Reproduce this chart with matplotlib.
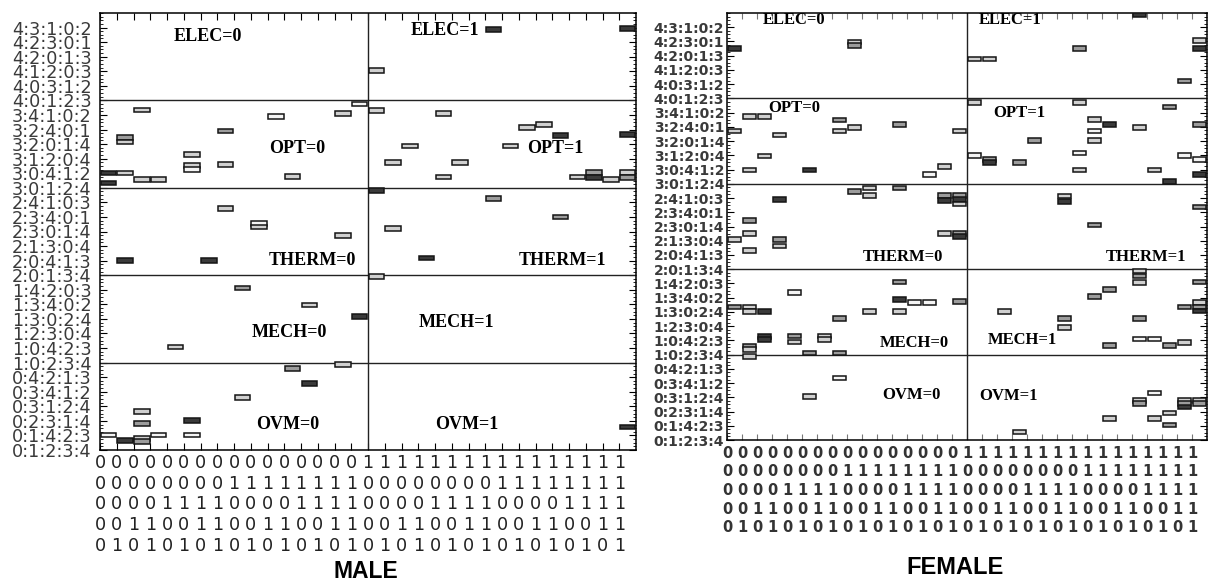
import matplotlib.pyplot as plt
import numpy as np
from matplotlib.ticker import MultipleLocator

# x categories: 5-bit codes (ELEC, OPT, THERM, MECH, OVM), one column each
codes = ['00000', '00001', '00010', '00011', '00100', '00101', '00110', '00111',
         '01000', '01001', '01010', '01011', '01100', '01101', '01110', '01111',
         '10000', '10001', '10010', '10011', '10100', '10101', '10110', '10111',
         '11000', '11001', '11010', '11011', '11100', '11101', '11110', '11111']

# y tick labels (rankings), every 4th of the 120 permutations, bottom to top
rank_pos = [0, 4, 8, 12, 16, 20, 24, 28, 32, 36, 40, 44, 48, 52, 56, 60,
            64, 68, 72, 76, 80, 84, 88, 92, 96, 100, 104, 108, 112, 116]
rank_labels = ['0:1:2:3:4', '0:1:4:2:3', '0:2:3:1:4', '0:3:1:2:4', '0:3:4:1:2', '0:4:2:1:3',
               '1:0:2:3:4', '1:0:4:2:3', '1:2:3:0:4', '1:3:0:2:4', '1:3:4:0:2', '1:4:2:0:3',
               '2:0:1:3:4', '2:0:4:1:3', '2:1:3:0:4', '2:3:0:1:4', '2:3:4:0:1', '2:4:1:0:3',
               '3:0:1:2:4', '3:0:4:1:2', '3:1:2:0:4', '3:2:0:1:4', '3:2:4:0:1', '3:4:1:0:2',
               '4:0:1:2:3', '4:0:3:1:2', '4:1:2:0:3', '4:2:0:1:3', '4:2:3:0:1', '4:3:1:0:2']
group_bounds = [24, 48, 72, 96]

# shade codes: w white, l light, m medium, d dark
shade_map = {'w': '#f4f4f4', 'l': '#d0d0d0', 'm': '#9c9c9c', 'd': '#3a3a3a'}

# MALE marks
male_col = [23, 16, 31,
            0, 1, 0, 2, 3, 1, 1, 2, 5, 5, 5, 7, 7, 10, 11, 14, 15,
            16, 20, 25, 26, 27, 18, 24, 17, 21, 20, 28, 29, 29, 30, 31, 31, 31,
            7, 9, 9, 14, 1, 6, 16, 23, 27, 17, 19,
            16, 8, 12, 15, 4,
            14, 11, 12, 8, 2, 2, 5, 0, 1, 2, 2, 3, 5, 31]
male_val = [115.5, 104.3, 115.8,
            76.1, 76.1, 73.3, 74.3, 74.3, 85.9, 84.6, 93.4, 81.1, 78.2, 77.0, 87.6, 78.3, 91.5, 75.2, 92.5, 95.0,
            93.2, 92.4, 88.5, 89.3, 86.4, 83.5, 83.5, 78.9, 78.9, 75.0, 75.0, 76.2, 74.9, 74.2, 86.6, 76.2, 74.9,
            66.4, 62.1, 61.2, 59.0, 52.0, 52.0, 71.3, 69.0, 64.0, 60.8, 52.7,
            47.6, 44.5, 39.8, 36.6, 28.3,
            23.4, 22.4, 18.2, 14.5, 10.5, 7.3, 8.2, 4.1, 2.6, 3.2, 2.3, 4.1, 4.1, 6.3]
male_shade = ['d', 'l', 'd',
              'd', 'l', 'd', 'l', 'l', 'm', 'l', 'l', 'l', 'l', 'w', 'm', 'l', 'w', 'l', 'l', 'w',
              'l', 'l', 'l', 'l', 'd', 'l', 'l', 'l', 'l', 'l', 'l', 'm', 'd', 'l', 'd', 'l', 'm',
              'l', 'w', 'l', 'l', 'd', 'd', 'd', 'm', 'm', 'l', 'd',
              'l', 'm', 'l', 'd', 'l',
              'l', 'm', 'd', 'l', 'l', 'm', 'd', 'w', 'd', 'l', 'm', 'w', 'w', 'd']

# FEMALE marks
female_col = [0, 8, 8, 16, 17, 23, 27, 30, 31, 31,
              1, 2, 0, 3, 2, 1, 5, 7, 7, 8, 11, 15, 13, 14,
              16, 23, 29, 24, 24, 24, 25, 27, 31, 20, 16, 17, 17, 19, 23, 23, 28, 29, 30, 31, 31,
              8, 9, 9, 11, 3, 14, 14, 15, 15, 15, 1, 1, 0, 3, 3, 1, 14, 15, 15, 22, 22, 24, 31,
              0, 1, 1, 2, 4, 11, 11, 11, 12, 13, 15, 7, 9, 2, 2, 4, 4, 6, 6, 1, 1, 1, 5, 7,
              18, 22, 22, 24, 25, 25, 27, 27, 27, 27, 27, 28, 29, 30, 30, 31, 31, 31, 31,
              7, 5, 19, 25, 27, 27, 28, 28, 29, 29, 30, 30, 30, 31, 31]
female_val = [110.1, 111.8, 110.8, 107.1, 107.1, 110.1, 119.4, 100.9, 112.2, 110.1,
              90.9, 90.9, 86.8, 85.7, 79.8, 75.9, 75.9, 89.9, 86.8, 87.8, 88.7, 86.8, 74.7, 76.8,
              94.8, 94.8, 93.6, 90.0, 86.8, 84.1, 88.7, 87.8, 88.7, 84.1, 80.0, 78.9, 78.0, 78.0, 80.7, 75.9, 75.9, 72.6, 80.0, 78.9, 74.7,
              69.9, 70.8, 68.7, 70.8, 67.6, 68.7, 67.3, 68.7, 67.5, 66.3, 61.6, 58.1, 56.3, 56.3, 54.5, 53.3, 58.1, 58.1, 57.2, 68.6, 67.0, 60.4, 65.5,
              37.4, 37.4, 36.1, 36.1, 41.5, 44.4, 39.5, 36.1, 38.6, 38.6, 39.0, 34.2, 36.1, 29.0, 28.3, 29.2, 27.5, 29.2, 28.3, 26.4, 25.4, 23.5, 24.5, 24.5,
              36.1, 34.2, 31.6, 40.4, 42.3, 26.5, 47.5, 46.1, 44.3, 34.2, 28.4, 28.4, 26.5, 27.4, 37.4, 44.4, 38.6, 37.4, 36.3,
              17.4, 12.2, 2.3, 6.0, 11.1, 10.2, 13.2, 6.0, 7.6, 4.2, 11.1, 10.2, 9.3, 11.1, 10.2]
female_shade = ['d', 'l', 'm', 'l', 'l', 'm', 'd', 'm', 'l', 'd',
                'l', 'l', 'l', 'l', 'l', 'l', 'd', 'm', 'l', 'l', 'm', 'l', 'w', 'l',
                'l', 'l', 'm', 'l', 'w', 'l', 'd', 'l', 'm', 'm', 'w', 'm', 'd', 'm', 'w', 'l', 'l', 'd', 'w', 'w', 'd',
                'm', 'l', 'l', 'm', 'd', 'm', 'd', 'm', 'd', 'l', 'm', 'l', 'l', 'm', 'l', 'l', 'l', 'm', 'd', 'l', 'd', 'm', 'm',
                'm', 'l', 'l', 'd', 'w', 'm', 'd', 'l', 'w', 'w', 'm', 'm', 'l', 'd', 'd', 'm', 'l', 'l', 'l', 'm', 'l', 'l', 'm', 'm',
                'l', 'm', 'l', 'm', 'm', 'm', 'l', 'm', 'l', 'm', 'w', 'w', 'm', 'l', 'm', 'm', 'l', 'm', 'd',
                'w', 'l', 'l', 'l', 'l', 'm', 'w', 'l', 'l', 'm', 'l', 'm', 'd', 'l', 'm']

group_text = ['ELEC=0', 'ELEC=1', 'OPT=0', 'OPT=1', 'THERM=0', 'THERM=1',
              'MECH=0', 'MECH=1', 'OVM=0', 'OVM=1']
male_text_x = [6.45, 20.6, 11.75, 27.2, 12.7, 27.6, 11.3, 21.3, 11.2, 21.9]
male_text_y = [113.6, 115.2, 82.7, 82.7, 51.9, 51.9, 32.2, 35.0, 7.1, 7.1]
female_text_x = [4.5, 18.9, 4.5, 19.5, 11.7, 27.9, 12.5, 19.7, 12.3, 18.8]
female_text_y = [118.0, 118.0, 93.3, 91.9, 51.4, 51.4, 27.4, 28.0, 12.7, 12.5]


def draw_panel(ax, cols, vals, shades, tx, ty, female=False):
    cols = np.array(cols)
    vals = np.array(vals)
    ax.bar(cols + 0.5, 1.3, width=0.92, bottom=vals - 0.65,
           color=[shade_map[s] for s in shades], edgecolor='#151515',
           linewidth=1.1, zorder=3)
    for b in group_bounds:
        ax.axhline(b, color='#222222', lw=1.0, zorder=2)
    ax.axvline(16, color='#222222', lw=1.0, zorder=2)
    ax.set_xlim(0, 32)
    ax.set_ylim(0, 120)

    # multi-line binary labels under each column
    xlabels = ['\n'.join(c) for c in codes]
    ax.set_xticks(np.arange(32))
    ax.set_yticks(rank_pos)
    ax.yaxis.set_minor_locator(MultipleLocator(1))
    if female:
        ax.set_xticklabels(xlabels, fontsize=10.5, fontweight='bold', color='#333333',
                           linespacing=1.31)
        ax.set_yticklabels(rank_labels, fontsize=10, fontweight='bold', color='#3a3a3a')
        ax.tick_params(axis='x', which='both', direction='in', top=True, length=4,
                       pad=4, colors='#777777', labelcolor='#333333')
        ax.tick_params(axis='y', which='major', direction='in', right=True, length=5,
                       pad=2)
        fs = 12
    else:
        ax.set_xticklabels(xlabels, fontsize=12.7, color='#222222', linespacing=1.19)
        ax.set_yticklabels(rank_labels, fontsize=12.7, color='#3a3a3a')
        ax.tick_params(axis='x', which='both', direction='in', top=True, length=5, pad=3)
        ax.tick_params(axis='y', which='major', direction='in', right=True, length=5,
                       pad=6)
        fs = 13
    ax.tick_params(axis='y', which='minor', direction='in', right=True, length=2)
    for s in ax.spines.values():
        s.set_linewidth(1.1)

    for t, x, y in zip(group_text, tx, ty):
        ax.text(x, y, t, fontsize=fs, fontweight='bold', family='Liberation Serif',
                ha='center', va='center', zorder=4)


fig = plt.figure(figsize=(12.14, 5.83), dpi=100)
ax_m = fig.add_axes([100 / 1214, 1 - 450 / 583, 536 / 1214, 437 / 583])
ax_f = fig.add_axes([727 / 1214, 1 - 440 / 583, 480 / 1214, 427 / 583])

draw_panel(ax_m, male_col, male_val, male_shade, male_text_x, male_text_y)
draw_panel(ax_f, female_col, female_val, female_shade, female_text_x, female_text_y,
           female=True)

fig.text(366 / 1214, 1 - 572 / 583, 'MALE', fontsize=16.5, fontweight='bold',
         family='Liberation Sans', ha='center', va='center')
fig.text(955 / 1214, 1 - 567 / 583, 'FEMALE', fontsize=17, fontweight='bold',
         family='Liberation Sans', ha='center', va='center')

fig.savefig('out.png', dpi=100)
